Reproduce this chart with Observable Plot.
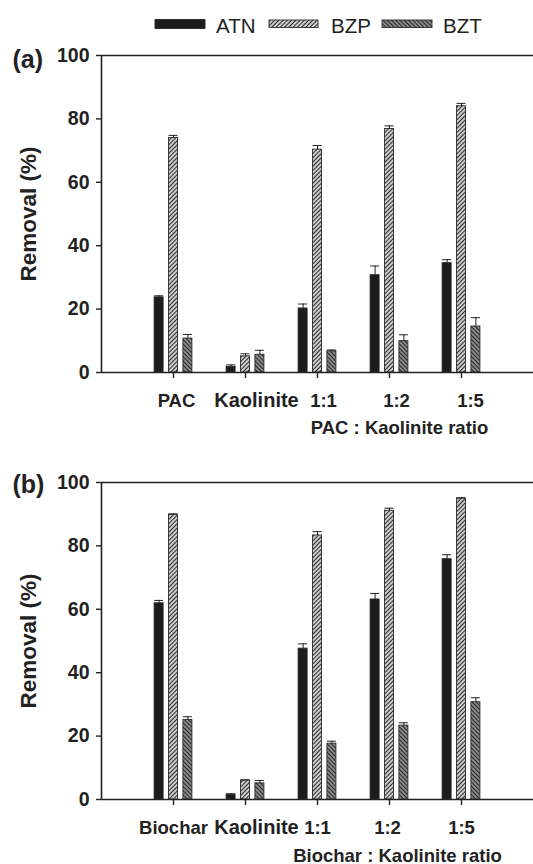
<!DOCTYPE html>
<html><head><meta charset="utf-8">
<script src="https://cdn.jsdelivr.net/npm/d3@7"></script>
<script src="https://cdn.jsdelivr.net/npm/@observablehq/plot@0.6"></script>
<style>
body{margin:0;background:#fff;width:533px;height:864px;overflow:hidden;font-family:"Liberation Sans",Arial,sans-serif}
#defs{position:absolute;width:0;height:0;left:0;top:0}
svg{display:block}
</style></head><body>
<svg id="defs" width="0" height="0"><defs>
<pattern id="hatchBZP" width="3" height="3" patternUnits="userSpaceOnUse" patternTransform="rotate(45)">
<rect width="3" height="3" fill="#d4d4d4"/><line x1="1.5" y1="0" x2="1.5" y2="3" stroke="#2a2a2a" stroke-width="1.1"/></pattern>
<pattern id="hatchBZT" width="3" height="3" patternUnits="userSpaceOnUse" patternTransform="rotate(-45)">
<rect width="3" height="3" fill="#8f8f8f"/><line x1="1.5" y1="0" x2="1.5" y2="3" stroke="#262626" stroke-width="1.1"/></pattern>
</defs></svg>
<div id="legend"></div><div id="pa"></div><div id="pb"></div>
<script>
// ---- data ----
const series = ["ATN", "BZP", "BZT"];
const categoriesA = ["PAC", "Kaolinite", "1:1", "1:2", "1:5"];
const categoriesB = ["Biochar", "Kaolinite", "1:1", "1:2", "1:5"];
const yTicks = [0, 20, 40, 60, 80, 100];

const aATN = [23.7, 1.8, 20.2, 30.7, 34.5];
const aATNerr = [0.5, 0.6, 1.4, 2.9, 1.1];
const aBZP = [74.0, 5.1, 70.3, 76.8, 84.0];
const aBZPerr = [0.8, 0.8, 1.3, 1.0, 0.9];
const aBZT = [10.7, 5.6, 6.7, 9.9, 14.5];
const aBZTerr = [1.3, 1.4, 0.4, 2.0, 2.8];

const bATN = [61.9, 1.5, 47.6, 63.1, 75.8];
const bATNerr = [0.9, 0.3, 1.5, 1.9, 1.4];
const bBZP = [89.8, 6.0, 83.3, 91.1, 94.9];
const bBZPerr = [0.3, 0.2, 1.2, 0.8, 0.3];
const bBZT = [25.1, 5.1, 17.6, 23.3, 30.7];
const bBZTerr = [1.0, 0.9, 0.8, 0.9, 1.4];

// ---- styles ----
const fills = ["#1c1c1c", "url(#hatchBZP)", "url(#hatchBZT)"];
const offsets = [-0.2, 0, 0.2];
const hw = 0.0625;
const ink = "#222";
const FONT = "'Liberation Sans', Arial, sans-serif";

function panel(cats, vals, errs, o) {
  const rows = [];
  series.forEach((s, k) => cats.forEach((c, i) => rows.push({i: i + 1, k, v: vals[k][i], e: errs[k][i]})));
  const pos = d => d.i + offsets[d.k];
  const marks = [];
  series.forEach((s, k) => {
    const r = rows.filter(d => d.k === k);
    marks.push(Plot.rect(r, {x1: d => pos(d) - hw, x2: d => pos(d) + hw, y1: 0, y2: "v",
      fill: fills[k], stroke: "#2a2a2a", strokeWidth: 0.9}));
  });
  marks.push(Plot.ruleX(rows, {x: pos, y1: "v", y2: d => d.v + d.e, stroke: ink, strokeWidth: 1}));
  marks.push(Plot.ruleY(rows, {y: d => d.v + d.e, x1: d => pos(d) - hw, x2: d => pos(d) + hw, stroke: ink, strokeWidth: 1}));
  marks.push(Plot.ruleY([0, 100], {stroke: ink, strokeWidth: 1.6}));
  marks.push(Plot.ruleX([0], {y1: 0, y2: 100, stroke: ink, strokeWidth: 1.6}));
  marks.push(Plot.axisY({ticks: yTicks, tickSize: 5, tickFormat: () => "", label: null, stroke: ink, strokeWidth: 1.4}));
  marks.push(Plot.text(yTicks, {y: d => d, frameAnchor: "left", text: d => String(d), dx: -12, textAnchor: "end",
    lineAnchor: "middle", fontSize: 19.5, fontWeight: "bold", fill: "#222"}));
  marks.push(Plot.axisX({ticks: [1, 2, 3, 4, 5], tickFormat: () => "", tickSize: 6, label: null, stroke: ink, strokeWidth: 1.4}));
  cats.forEach((c, i) => {
    marks.push(Plot.text([{i: i + 1, label: c}], {x: "i", y: () => 0, text: "label", dx: o.labelDx[i], dy: 34,
      lineAnchor: "bottom", textAnchor: "middle", fontSize: c === "Kaolinite" ? 20 : 18.5, fontWeight: "bold", fill: "#222"}));
  });
  marks.push(Plot.text([o.xtitle], {frameAnchor: "bottom", dx: o.titleDx, dy: o.titleDy, textAnchor: "middle",
    lineAnchor: "bottom", fontSize: 18.5, fontWeight: "bold", fill: "#222"}));
  marks.push(Plot.text(["Removal (%)"], {frameAnchor: "left", dx: -73, rotate: -90, textAnchor: "middle",
    lineAnchor: "middle", fontSize: 22.5, fontWeight: "bold", fill: "#222"}));
  marks.push(Plot.text([o.tag], {frameAnchor: "top-left", dx: -89, dy: o.tagDy, textAnchor: "start",
    lineAnchor: "bottom", fontSize: 25, fontWeight: "bold", fill: "#222"}));
  return Plot.plot({
    width: 533, height: o.height,
    marginLeft: 101, marginRight: 0, marginTop: o.mt, marginBottom: o.mb,
    x: {type: "linear", domain: [0, 6]},
    y: {domain: [0, 100]},
    style: {fontFamily: FONT, background: "white", overflow: "visible"},
    marks
  });
}

// legend
const lg = d3.create("svg").attr("width", 533).attr("height", 40);
const lgPos = [{rx: 155, rw: 50, tx: 216}, {rx: 269, rw: 49, tx: 331}, {rx: 382, rw: 50, tx: 443}];
series.forEach((s, k) => {
  const p = lgPos[k];
  lg.append("rect").attr("x", p.rx).attr("y", k === 0 ? 19.5 : 20).attr("width", p.rw).attr("height", k === 0 ? 9 : 7.5)
    .attr("fill", fills[k]).attr("stroke", "#2a2a2a").attr("stroke-width", 0.9);
  lg.append("text").attr("x", p.tx).attr("y", 32.5).attr("font-size", 20.5).attr("fill", "#222")
    .attr("font-family", FONT).text(s);
});
document.getElementById("legend").append(lg.node());

document.getElementById("pa").append(panel(categoriesA, [aATN, aBZP, aBZT], [aATNerr, aBZPerr, aBZTerr],
  {height: 400, mt: 15, mb: 68, tag: "(a)", tagDy: 12, xtitle: "PAC : Kaolinite ratio", titleDx: 82, titleDy: 61,
   labelDx: [3, 11, 6, 7, 9]}));
document.getElementById("pb").append(panel(categoriesB, [bATN, bBZP, bBZT], [bATNerr, bBZPerr, bBZTerr],
  {height: 424, mt: 42, mb: 65, tag: "(b)", tagDy: 10, xtitle: "Biochar : Kaolinite ratio", titleDx: 80, titleDy: 62,
   labelDx: [0, 11, 0, -2, 0]}));
</script>
</body></html>
